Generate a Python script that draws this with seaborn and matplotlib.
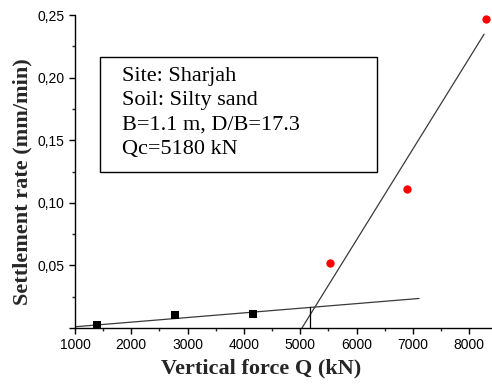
import matplotlib
matplotlib.use("Agg")
import matplotlib.pyplot as plt
import seaborn as sns
import pandas as pd
from matplotlib.ticker import MultipleLocator, FuncFormatter
from matplotlib.patches import Rectangle

# data
low_q = [1385, 2776, 4156]
low_rate = [0.0026, 0.0100, 0.0110]
high_q = [5530, 6900, 8290]
high_rate = [0.052, 0.111, 0.247]

fit1_q = [1000, 7110]
fit1_rate = [0.0010, 0.0236]
fit2_q = [5030, 8265]
fit2_rate = [0.000, 0.2347]
qc_q = [5180, 5180]
qc_rate = [0.0, 0.0166]

info_lines = ["Site: Sharjah", "Soil: Silty sand", "B=1.1 m, D/B=17.3", "Qc=5180 kN"]

sns.set_style("ticks")
plt.rcParams['font.family'] = ['Liberation Sans', 'DejaVu Sans']

fig = plt.figure(figsize=(4.92, 3.85), dpi=100)
ax = fig.add_axes([0.1524, 0.148, 0.847, 0.813])

line_col = "#3a3a3a"
sns.lineplot(x=fit1_q, y=fit1_rate, ax=ax, color=line_col, lw=0.9, estimator=None)
sns.lineplot(x=fit2_q, y=fit2_rate, ax=ax, color=line_col, lw=0.9, estimator=None)
sns.lineplot(x=qc_q, y=qc_rate, ax=ax, color="black", lw=0.9, estimator=None)

sns.scatterplot(x=low_q, y=low_rate, ax=ax, marker="s", color="black", s=28, linewidth=0, zorder=5)
sns.scatterplot(x=high_q, y=high_rate, ax=ax, marker="o", color="#ff0000", s=36, linewidth=0, zorder=5)

ax.set_xlim(1000, 8400)
ax.set_ylim(0, 0.25)
ax.xaxis.set_major_locator(MultipleLocator(1000))
ax.xaxis.set_minor_locator(MultipleLocator(500))
ax.yaxis.set_major_locator(MultipleLocator(0.05))
ax.yaxis.set_minor_locator(MultipleLocator(0.025))

def yfmt(v, pos):
    if abs(v) < 1e-9:
        return ""
    return f"{v:.2f}".replace(".", ",")

ax.yaxis.set_major_formatter(FuncFormatter(yfmt))
ax.xaxis.set_major_formatter(FuncFormatter(lambda v, p: f"{int(round(v))}"))

ax.tick_params(axis="both", which="major", direction="out", length=4, width=1, labelsize=10, colors="black")
ax.tick_params(axis="both", which="minor", direction="out", length=2.5, width=1)
for s in ["left", "bottom"]:
    ax.spines[s].set_linewidth(1.0)
    ax.spines[s].set_color("black")
sns.despine(ax=ax)

ax.set_xlabel("Vertical force Q (kN)", fontsize=16, fontweight="bold",
              family=["Liberation Serif"], va="center")
ax.set_ylabel("Settlement rate (mm/min)", fontsize=16, fontweight="bold",
              family=["Liberation Serif"], va="center")
ax.xaxis.set_label_coords(0.447, -0.128)
ax.yaxis.set_label_coords(-0.127, 0.468)

box = Rectangle((0.06, 0.498), 0.665, 0.368, transform=ax.transAxes,
                fill=False, edgecolor="black", lw=1.0)
ax.add_patch(box)
ax.text(0.113, 0.835, "\n".join(info_lines), transform=ax.transAxes,
        fontsize=16, family=["Liberation Serif"], va="top", ha="left",
        linespacing=1.39, color="black")

fig.savefig("out.png", dpi=100)
